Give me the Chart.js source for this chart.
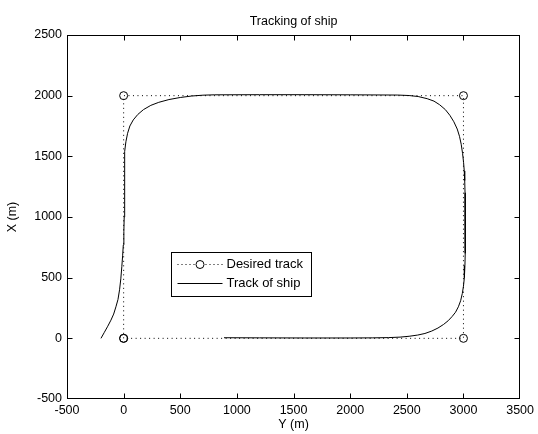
<!DOCTYPE html>
<html>
<head>
<meta charset="utf-8">
<script src="https://cdn.jsdelivr.net/npm/chart.js@4"></script>
<style>
  html, body { margin: 0; padding: 0; background: #fff; }
  canvas { display: block; }
</style>
</head>
<body>
<canvas id="c" width="538" height="434"></canvas>
<script>
// Axis ticks (horizontal axis is Y, vertical axis is X, in metres)
const yAxisTicks = [-500, 0, 500, 1000, 1500, 2000, 2500, 3000, 3500];
const xAxisTicks = [-500, 0, 500, 1000, 1500, 2000, 2500];

// Desired track: waypoints of the rectangle
const desiredY = [0, 0, 3000, 3000, 0];
const desiredX = [0, 2000, 2000, 0, 0];

// Track of ship
const shipY = [-200, -170, -140, -112, -88, -68, -50, -36, -25, -16, -9, -3, 2, 5, 7, 8, 9, 12, 20, 35, 55, 85, 125, 175, 240, 310, 400, 500, 600, 700, 800,
  1200, 1600, 2000, 2420, 2520, 2600, 2680, 2740, 2790, 2840, 2880, 2915, 2945, 2965, 2980, 2992, 3001, 3007, 3011, 3014, 3015, 3016, 3016, 3016,
  3015, 3013, 3008, 3000, 2990, 2975, 2955, 2930, 2900, 2865, 2825, 2775, 2720, 2660, 2596, 2520, 2440, 2340, 2200, 2000, 1600, 1200, 886];
const shipX = [0, 50, 100, 150, 200, 260, 320, 400, 490, 590, 680, 770, 880, 1000, 1150, 1300, 1450, 1540, 1620, 1690, 1750, 1800, 1845, 1885, 1920, 1945, 1968, 1985, 1997, 2004, 2007,
  2008, 2008, 2007, 2005, 2001, 1993, 1975, 1955, 1925, 1885, 1838, 1785, 1725, 1665, 1600, 1525, 1450, 1380, 1300, 1200, 1100, 1000, 900, 800,
  700, 600, 500, 430, 370, 310, 260, 215, 180, 145, 115, 85, 60, 40, 27, 17, 10, 6, 4, 3, 3, 4, 5];

const toPoints = (ys, xs) => ys.map((v, i) => ({ x: v, y: xs[i] }));

Chart.defaults.font.family = '"Liberation Sans", Arial, sans-serif';
Chart.defaults.font.size = 12.5;
Chart.defaults.color = '#000';

// Box around the plot with inward tick marks on all four sides
const framePlugin = {
  id: 'frame',
  afterDatasetsDraw(chart) {
    const { ctx, chartArea: a, scales: { x, y } } = chart;
    const L = Math.round(a.left) + 0.5, R = Math.round(a.right) - 0.5;
    const T = Math.round(a.top) + 0.5, B = Math.round(a.bottom) - 0.5;
    const len = 5;
    ctx.save();
    ctx.strokeStyle = '#000';
    ctx.lineWidth = 1;
    ctx.setLineDash([]);
    ctx.strokeRect(L, T, R - L, B - T);
    ctx.beginPath();
    yAxisTicks.slice(1, -1).forEach(v => {
      const px = Math.round(x.getPixelForValue(v)) + 0.5;
      ctx.moveTo(px, B); ctx.lineTo(px, B - len);
      ctx.moveTo(px, T); ctx.lineTo(px, T + len);
    });
    xAxisTicks.slice(1, -1).forEach(v => {
      const py = Math.round(y.getPixelForValue(v)) + 0.5;
      ctx.moveTo(L, py); ctx.lineTo(L + len, py);
      ctx.moveTo(R, py); ctx.lineTo(R - len, py);
    });
    ctx.stroke();
    ctx.restore();
  }
};

// Boxed legend drawn inside the plot area
const boxLegendPlugin = {
  id: 'boxLegend',
  afterDraw(chart) {
    const { ctx, chartArea: a } = chart;
    const w = a.right - a.left, h = a.bottom - a.top;
    const bx = Math.round(a.left + w * 0.2296) + 0.5;
    const by = Math.round(a.top + h * 0.596) + 0.5;
    const bw = Math.round(w * 0.3094);
    const bh = Math.round(h * 0.121);
    ctx.save();
    ctx.fillStyle = '#fff';
    ctx.fillRect(bx, by, bw, bh);
    ctx.strokeStyle = '#000';
    ctx.lineWidth = 1;
    ctx.strokeRect(bx, by, bw, bh);

    const x0 = bx + 6, x1 = bx + 51, xc = (x0 + x1) / 2;
    const r1 = by + 12, r2 = by + 31;

    // Desired track sample: dotted line with a circle marker
    ctx.setLineDash([1, 3]);
    ctx.beginPath();
    ctx.moveTo(x0, r1); ctx.lineTo(x1, r1);
    ctx.stroke();
    ctx.setLineDash([]);
    ctx.beginPath();
    ctx.arc(xc, r1, 4, 0, Math.PI * 2);
    ctx.fillStyle = '#fff';
    ctx.fill();
    ctx.stroke();

    // Track of ship sample: solid line
    ctx.beginPath();
    ctx.moveTo(x0, r2); ctx.lineTo(x1, r2);
    ctx.stroke();

    ctx.fillStyle = '#000';
    ctx.font = '13px "Liberation Sans", Arial, sans-serif';
    ctx.textBaseline = 'middle';
    ctx.textAlign = 'left';
    ctx.fillText('Desired track', x1 + 4, r1);
    ctx.fillText('Track of ship', x1 + 4, r2);
    ctx.restore();
  }
};

new Chart(document.getElementById('c'), {
  type: 'scatter',
  data: {
    datasets: [
      {
        label: 'Desired track',
        data: toPoints(desiredY, desiredX),
        showLine: true,
        borderColor: '#000',
        borderWidth: 1,
        borderDash: [1, 3.5],
        pointRadius: 4,
        pointBorderWidth: 1,
        pointBorderColor: '#000',
        pointBackgroundColor: 'rgba(255,255,255,0)',
        tension: 0
      },
      {
        label: 'Track of ship',
        data: toPoints(shipY, shipX),
        showLine: true,
        borderColor: '#000',
        borderWidth: 1,
        pointRadius: 0,
        tension: 0
      }
    ]
  },
  options: {
    responsive: false,
    animation: false,
    events: [],
    layout: { padding: { left: 0, right: 15, top: 0, bottom: 0 } },
    plugins: {
      legend: { display: false },
      tooltip: { enabled: false },
      title: {
        display: true,
        text: 'Tracking of ship',
        fullSize: false,
        color: '#000',
        font: { size: 12.5, weight: 'normal' },
        padding: { top: 14, bottom: 6 }
      }
    },
    scales: {
      x: {
        type: 'linear',
        min: -500,
        max: 3500,
        afterBuildTicks: s => { s.ticks = yAxisTicks.map(v => ({ value: v })); },
        afterFit: s => { s.height = 35; },
        grid: { display: false, drawTicks: false },
        border: { display: false },
        ticks: { color: '#000', padding: 4, maxRotation: 0, autoSkip: false, callback: v => String(v) },
        title: { display: true, text: 'Y (m)', color: '#000', padding: { top: 0, bottom: 2 } }
      },
      y: {
        type: 'linear',
        min: -500,
        max: 2500,
        afterBuildTicks: s => { s.ticks = xAxisTicks.map(v => ({ value: v })); },
        afterFit: s => { s.width = 67; },
        grid: { display: false, drawTicks: false },
        border: { display: false },
        ticks: { color: '#000', padding: 5, autoSkip: false, callback: v => String(v) },
        title: { display: true, text: 'X (m)', color: '#000', padding: { top: 5, bottom: 0 } }
      }
    }
  },
  plugins: [framePlugin, boxLegendPlugin]
});
</script>
</body>
</html>
